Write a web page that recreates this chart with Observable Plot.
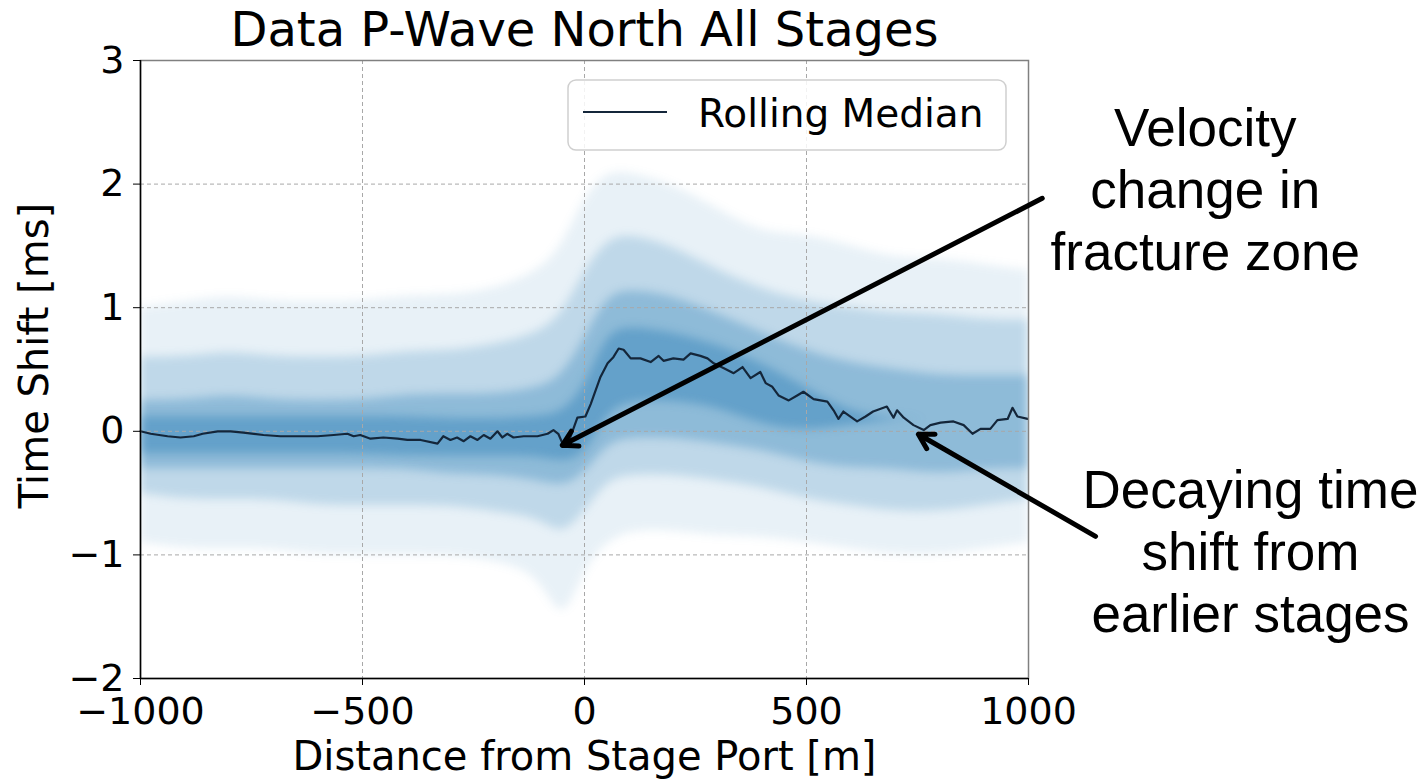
<!DOCTYPE html>
<html><head><meta charset="utf-8">
<script src="https://cdn.jsdelivr.net/npm/d3@7"></script>
<script src="https://cdn.jsdelivr.net/npm/@observablehq/plot@0.6"></script>
<style>
html,body{margin:0;padding:0;background:#fff;}
#chart{width:1424px;height:782px;}
</style></head><body><div id="chart"></div>
<script>
// ---- Data ----
const titleText = "Data P-Wave North All Stages";
const xLabel = "Distance from Stage Port [m]";
const yLabel = "Time Shift [ms]";
const legendLabel = "Rolling Median";
const xTicks = [-1000, -500, 0, 500, 1000];
const yTicks = [-2, -1, 0, 1, 2, 3];

// Rolling median (distance m, time shift ms)
const medX = [-1000,-977,-939,-910,-880,-860,-826,-797,-768,-723,-685,-647,-601,-565,-534,-520,-505,-482,-453,-421,-399,-369,-331,-318,-302,-287,-272,-257,-241,-227,-212,-196,-185,-174,-160,-137,-106,-83,-70,-59,-47,-32,-16,2,14,20,36,52,65,77,88,104,126,149,167,178,200,223,239,261,277,291,314,336,356,374,396,408,423,437,460,479,493,516,547,561,572,583,614,633,650,681,696,704,719,741,764,779,802,831,854,874,892,914,930,953,964,975,998];
const medY = [0.0,-0.02,-0.04,-0.05,-0.04,-0.02,0.0,0.0,-0.01,-0.03,-0.04,-0.04,-0.04,-0.03,-0.02,-0.04,-0.03,-0.06,-0.05,-0.06,-0.07,-0.07,-0.10,-0.04,-0.07,-0.05,-0.08,-0.04,-0.07,-0.03,-0.06,0.0,-0.05,-0.02,-0.05,-0.04,-0.04,-0.02,0.01,-0.02,-0.12,-0.05,0.11,0.12,0.22,0.28,0.44,0.55,0.60,0.67,0.66,0.59,0.59,0.56,0.61,0.57,0.59,0.58,0.63,0.61,0.59,0.55,0.51,0.47,0.52,0.43,0.48,0.39,0.36,0.29,0.25,0.29,0.32,0.26,0.24,0.17,0.10,0.16,0.08,0.12,0.16,0.20,0.11,0.17,0.11,0.05,0.01,0.05,0.07,0.08,0.05,-0.02,0.02,0.02,0.09,0.10,0.19,0.12,0.10];

// Scatter cloud density envelopes (faint, medium, dense, core)
const bandX = [-1000,-900,-800,-700,-600,-500,-400,-300,-200,-100,-50,0,50,100,200,300,400,500,600,700,800,900,1000];
const faintHi = [1.0,1.05,1.1,1.05,1.05,1.05,1.1,1.1,1.15,1.3,1.5,1.9,2.1,2.1,2.0,1.8,1.6,1.6,1.5,1.4,1.4,1.35,1.3];
const faintLo = [-0.9,-0.95,-0.95,-0.95,-1.0,-1.0,-1.0,-1.0,-1.05,-1.15,-1.6,-1.1,-0.9,-0.8,-0.8,-0.85,-0.85,-0.9,-0.95,-1.0,-1.0,-0.95,-0.9];
const medHi = [0.6,0.6,0.65,0.6,0.6,0.6,0.65,0.65,0.7,0.8,0.95,1.3,1.55,1.6,1.5,1.3,1.15,1.05,1.0,0.95,0.95,0.9,0.9];
const medLo = [-0.5,-0.55,-0.55,-0.55,-0.6,-0.6,-0.6,-0.6,-0.65,-0.7,-0.85,-0.65,-0.4,-0.35,-0.35,-0.4,-0.45,-0.55,-0.6,-0.65,-0.65,-0.6,-0.55];
const denseHi = [0.25,0.25,0.3,0.25,0.25,0.25,0.3,0.3,0.3,0.35,0.45,0.75,1.1,1.15,1.1,0.95,0.8,0.65,0.55,0.5,0.45,0.45,0.45];
const denseLo = [-0.3,-0.3,-0.3,-0.3,-0.3,-0.3,-0.3,-0.35,-0.35,-0.4,-0.45,-0.35,-0.1,-0.05,-0.05,-0.1,-0.15,-0.25,-0.3,-0.3,-0.35,-0.3,-0.3];
const coreHi = [0.12,0.12,0.12,0.12,0.12,0.12,0.12,0.1,0.1,0.12,0.15,0.35,0.8,0.85,0.8,0.7,0.55,0.35,0.15,0.1,0.1,0.1,0.1];
const coreLo = [-0.18,-0.18,-0.18,-0.18,-0.18,-0.18,-0.2,-0.2,-0.2,-0.2,-0.25,-0.2,0.15,0.25,0.25,0.2,0.05,0.0,0.05,0.1,0.1,0.1,0.1];

// Annotations (data coordinates)
const annText = ["Velocity\nchange in\nfracture zone", "Decaying time\nshift from\nearlier stages"];
const annX = [1398, 1500];
const annY = [1.97, -0.96];
const arrowX1 = [1031, 1151];
const arrowY1 = [1.885, -0.85];
const arrowX2 = [-50, 752];
const arrowY2 = [-0.113, -0.024];

// ---- Build tables ----
const medRows = medX.map((x, i) => ({x, y: medY[i]}));
const bandRows = bandX.map((x, i) => ({x, fLo: faintLo[i], fHi: faintHi[i], mLo: medLo[i], mHi: medHi[i], dLo: denseLo[i], dHi: denseHi[i], cLo: coreLo[i], cHi: coreHi[i]}));
const annRows = annText.map((t, i) => ({t, x: annX[i], y: annY[i]}));
const arrowRows = arrowX1.map((x1, i) => ({x1, y1: arrowY1[i], x2: arrowX2[i], y2: arrowY2[i]}));

const blue = "#1f77b4";
const font = "'DejaVu Sans', Verdana, sans-serif";

const plot = Plot.plot({
  width: 1424,
  height: 782,
  marginLeft: 140,
  marginRight: 396,
  marginTop: 60,
  marginBottom: 104,
  x: {domain: [-1000, 1000]},
  y: {domain: [-2, 3]},
  style: {fontFamily: font, background: "white", color: "black"},
  marks: [
    Plot.areaY(bandRows, {x: "x", y1: "fLo", y2: "fHi", fill: blue, fillOpacity: 0.10, curve: "basis", clip: true}),
    Plot.areaY(bandRows, {x: "x", y1: "mLo", y2: "mHi", fill: blue, fillOpacity: 0.20, curve: "basis", clip: true}),
    Plot.areaY(bandRows, {x: "x", y1: "dLo", y2: "dHi", fill: blue, fillOpacity: 0.30, curve: "basis", clip: true}),
    Plot.areaY(bandRows, {x: "x", y1: "cLo", y2: "cHi", fill: blue, fillOpacity: 0.38, curve: "basis", clip: true}),
    Plot.gridX(xTicks, {stroke: "#a8a8a8", strokeOpacity: 1, strokeDasharray: "4,3", strokeWidth: 1}),
    Plot.gridY(yTicks, {stroke: "#a8a8a8", strokeOpacity: 1, strokeDasharray: "4,3", strokeWidth: 1}),
    Plot.line(medRows, {x: "x", y: "y", stroke: "#14263a", strokeWidth: 2.2}),
    Plot.frame({stroke: "#808080", strokeWidth: 1.5}),
    Plot.ruleX([-1000], {stroke: "black", strokeWidth: 1.5}),
    Plot.ruleY([-2], {stroke: "black", strokeWidth: 1.5}),
    Plot.axisX(xTicks, {tickSize: 7, tickPadding: 12, fontSize: 38, label: null, tickFormat: d3.format("d"), fontFamily: font}),
    Plot.axisY(yTicks, {tickSize: 7, tickPadding: 9, fontSize: 38, label: null, tickFormat: d3.format("d"), fontFamily: font}),
    Plot.text([titleText], {text: d => d, frameAnchor: "top", dy: -30, lineAnchor: "middle", fontSize: 48, fill: "black", fontFamily: font}),
    Plot.text([xLabel], {text: d => d, frameAnchor: "bottom", dy: 79, lineAnchor: "middle", fontSize: 40, fill: "black", fontFamily: font}),
    Plot.text([yLabel], {text: d => d, frameAnchor: "left", dx: -105, dy: -14, rotate: -90, textAnchor: "middle", lineAnchor: "middle", fontSize: 40, fill: "black", fontFamily: font}),
    Plot.arrow(arrowRows, {x1: "x1", y1: "y1", x2: "x2", y2: "y2", stroke: "black", strokeWidth: 5, headLength: 5, headAngle: 60}),
    Plot.text(annRows, {x: "x", y: "y", text: "t", fontSize: 53, lineHeight: 1.17, textAnchor: "middle", lineAnchor: "middle", fill: "black", fontFamily: "'Liberation Sans', Arial, sans-serif"})
  ]
});

const svg = d3.select(plot);
// Soften the density envelopes so they read like a scatter cloud
svg.selectAll('g[aria-label="area"]').style("filter", "blur(5px)");

// Legend box (matplotlib style, upper right inside the axes)
const lg = svg.append("g").attr("class", "legend");
lg.append("rect").attr("x", 568).attr("y", 80).attr("width", 438).attr("height", 70).attr("rx", 8)
  .attr("fill", "white").attr("fill-opacity", 0.85).attr("stroke", "#cfcfcf").attr("stroke-width", 1.5);
lg.append("line").attr("x1", 583).attr("x2", 667).attr("y1", 112).attr("y2", 112)
  .attr("stroke", "#14263a").attr("stroke-width", 2.2);
lg.append("text").attr("x", 698).attr("y", 127).attr("font-size", 39).attr("font-family", font)
  .attr("text-anchor", "start").attr("fill", "black").text(legendLabel);

document.getElementById("chart").appendChild(plot);
</script></body></html>
